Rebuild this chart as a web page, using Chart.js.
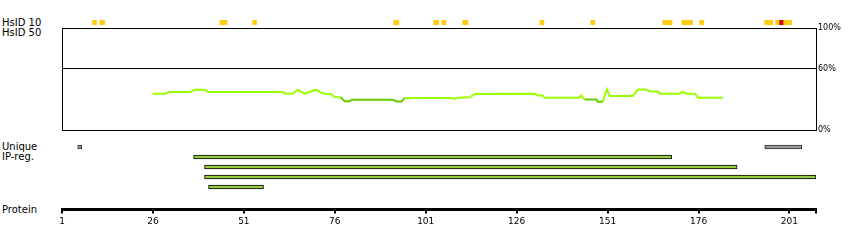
<!DOCTYPE html>
<html>
<head>
<meta charset="utf-8">
<script src="https://cdn.jsdelivr.net/npm/chart.js@4/dist/chart.umd.min.js"></script>
<style>
  body { margin: 0; background: #fff; }
  #page { position: relative; width: 850px; height: 250px; overflow: hidden; font-family: "DejaVu Sans", sans-serif; }
  canvas { position: absolute; left: 0; }
  .lbl { position: absolute; left: 2px; font-size: 10px; line-height: 10px; color: #000; }
</style>
</head>
<body>
<div id="page">
  <div class="lbl" style="top:18px">HsID 10</div>
  <div class="lbl" style="top:28px">HsID 50</div>
  <div class="lbl" style="top:142px">Unique</div>
  <div class="lbl" style="top:152px">IP-reg.</div>
  <div class="lbl" style="top:205px">Protein</div>
  <canvas id="marks" width="850" height="5" style="top:20px"></canvas>
  <canvas id="identity" width="850" height="140" style="top:0px"></canvas>
  <canvas id="regions" width="850" height="110" style="top:140px"></canvas>
</div>
<script>
// residue axis
const axisTicks = [1, 26, 51, 76, 101, 126, 151, 176, 201];
const proteinStart = 1;
const proteinEnd = 208.3;

// HsID 10 hits (residue ranges), level 'hi' drawn red
const hsidStart = [9.4, 11.4, 44.4, 53.4, 92.2, 103.2, 105.4, 111.2, 132.4, 146.4, 166.2, 171.4, 176.3, 194.2, 197.2, 198.3, 199.4];
const hsidEnd   = [10.5, 12.7, 46.4, 54.5, 93.6, 104.6, 106.5, 112.6, 133.5, 147.5, 168.7, 174.4, 177.4, 196.4, 198.3, 199.4, 201.6];
const hsidLevel = ['lo', 'lo', 'lo', 'lo', 'lo', 'lo', 'lo', 'lo', 'lo', 'lo', 'lo', 'lo', 'lo', 'lo', 'lo', 'hi', 'lo'];

// identity profile (HsID 50), percent
const idPos = [25.9, 29.5, 30.3, 36.1, 37.5, 40.2, 41.1, 61.7, 62.5, 64.4, 65.8, 67.7, 69.1, 70.8, 72.4, 73.8, 74.9, 76.0, 77.6, 78.7, 80.1, 80.6, 91.9, 93.0, 94.4, 95.2, 108.1, 109.0, 109.8, 113.1, 114.5, 130.9, 131.8, 133.1, 133.7, 143.1, 143.8, 144.7, 148.0, 148.3, 149.7, 150.8, 151.6, 157.9, 159.4, 161.7, 162.6, 164.8, 165.3, 170.8, 171.5, 172.7, 175.0, 175.9, 182.7];
const idPct = [35.6, 35.6, 37.3, 37.3, 39.5, 39.5, 37.3, 37.3, 35.6, 35.6, 39.5, 35.6, 37.3, 39.5, 36.3, 35.3, 35.3, 32.4, 32.2, 28.2, 28.2, 29.7, 29.7, 28.0, 28.0, 31.4, 31.4, 30.5, 31.7, 32.0, 35.3, 35.6, 33.9, 33.9, 31.7, 31.7, 33.9, 29.8, 29.8, 27.7, 27.7, 39.8, 33.3, 33.3, 39.8, 39.8, 37.8, 37.8, 35.6, 35.6, 37.5, 35.6, 35.6, 31.7, 31.7];
const pctTicks = [0, 60, 100];
const lowIdentity = 30.5;

// Unique row and IP-reg rows
const uniqueStart = [5.3, 194.2];
const uniqueEnd   = [6.4, 204.4];
const ipStart = [37.2, 40.2, 40.2, 41.3];
const ipEnd   = [168.6, 186.6, 208.3, 56.4];
const ipRow   = [1, 2, 3, 4];

const padL = 62, axisR = 34;

// HsID 10 markers
new Chart(document.getElementById('marks'), {
    type: 'bar',
    data: {
        labels: ['HsID 10'],
        datasets: [{
            data: hsidStart.map((s, i) => ({ x: [s, hsidEnd[i]], y: 'HsID 10' })),
            backgroundColor: hsidLevel.map(l => l === 'hi' ? '#dd0000' : '#ffcc11'),
            borderWidth: 0,
            barPercentage: 1,
            categoryPercentage: 1
        }]
    },
    options: {
        indexAxis: 'y',
        responsive: false,
        animation: false,
        layout: { padding: { left: padL, right: axisR, top: 0, bottom: 0 } },
        plugins: { legend: { display: false }, tooltip: { enabled: false } },
        scales: {
            x: { type: 'linear', min: proteinStart, max: proteinEnd, display: false },
            y: { display: false }
        }
    }
});

// identity plot
new Chart(document.getElementById('identity'), {
    type: 'line',
    data: {
        datasets: [{
            data: idPos.map((p, i) => ({ x: p, y: idPct[i] })),
            borderWidth: 2,
            pointRadius: 0,
            tension: 0,
            borderColor: '#99ff00',
            segment: {
                borderColor: ctx => (ctx.p0.parsed.y + ctx.p1.parsed.y) / 2 < lowIdentity ? '#66cc00' : '#99ff00'
            }
        }]
    },
    options: {
        responsive: false,
        animation: false,
        layout: { padding: { left: padL, right: 0, top: 28, bottom: 10 } },
        plugins: { legend: { display: false }, tooltip: { enabled: false } },
        scales: {
            x: { type: 'linear', min: proteinStart, max: proteinEnd, display: false },
            y: {
                position: 'right',
                min: 0,
                max: 100,
                afterBuildTicks: scale => { scale.ticks = pctTicks.map(v => ({ value: v })); },
                afterFit: scale => { scale.width = axisR; },
                grid: { color: '#000', lineWidth: 1, drawTicks: false },
                border: { display: true, color: '#000', width: 1 },
                ticks: {
                    padding: 2,
                    color: '#000',
                    font: { family: 'DejaVu Sans', size: 8 },
                    callback: v => v + '%'
                }
            },
            yLeft: {
                position: 'left',
                min: 0,
                max: 100,
                afterFit: scale => { scale.width = 0; },
                grid: { display: false },
                ticks: { display: false },
                border: { display: true, color: '#000', width: 1 }
            }
        }
    }
});

// Unique / IP-reg bars and protein axis
new Chart(document.getElementById('regions'), {
    type: 'bar',
    data: {
        datasets: [{
            data: uniqueStart.map((s, i) => ({ x: [s, uniqueEnd[i]], y: 0 })),
            backgroundColor: '#999999',
            borderColor: '#333333',
            borderWidth: 1,
            borderSkipped: false,
            barThickness: 4,
            grouped: false
        }, {
            data: ipStart.map((s, i) => ({ x: [s, ipEnd[i]], y: ipRow[i] })),
            backgroundColor: '#99cc44',
            borderColor: '#000000',
            borderWidth: 1,
            borderSkipped: false,
            barThickness: 4,
            grouped: false
        }]
    },
    options: {
        indexAxis: 'y',
        responsive: false,
        animation: false,
        layout: { padding: { left: padL, right: axisR, top: 2, bottom: 0 } },
        plugins: { legend: { display: false }, tooltip: { enabled: false } },
        scales: {
            x: {
                type: 'linear',
                position: 'bottom',
                offset: false,
                min: proteinStart,
                max: proteinEnd,
                afterBuildTicks: scale => {
                    scale.ticks = axisTicks.concat([proteinEnd]).map(v => ({ value: v }));
                },
                afterFit: scale => { scale.height = 40.5; },
                grid: { drawOnChartArea: false, drawTicks: true, tickLength: 4, lineWidth: 2, color: '#000', offset: false },
                border: { display: true, color: '#000', width: 3 },
                ticks: {
                    padding: 3,
                    color: '#000',
                    maxRotation: 0,
                    autoSkip: false,
                    font: { family: 'DejaVu Sans', size: 9 },
                    callback: v => axisTicks.includes(v) ? String(v) : ''
                }
            },
            y: {
                type: 'linear',
                offset: false,
                grid: { offset: false },
                min: -0.5,
                max: 6.25,
                reverse: true,
                display: false
            }
        }
    }
});
</script>
</body>
</html>
